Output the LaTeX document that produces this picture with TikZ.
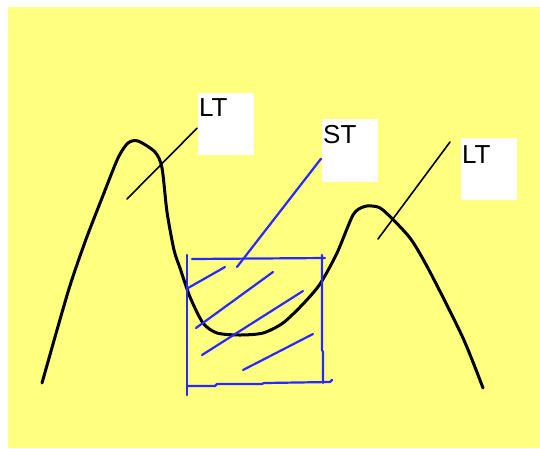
\documentclass[tikz,border=0pt]{standalone}
\usepackage{fontspec}
\setmainfont{Liberation Sans}
\usetikzlibrary{calc}
\definecolor{bgyellow}{RGB}{255,255,128}
\definecolor{penblue}{RGB}{40,40,255}
\begin{document}
\begin{tikzpicture}[x=1pt,y=-1pt,
  tbox/.style={fill=white, draw=none, anchor=north west, minimum width=56pt, minimum height=62pt, inner sep=0pt},
  tlabel/.style={anchor=north west, inner sep=0pt, font=\fontsize{26}{30}\selectfont},
  curveline/.style={line width=3pt, line cap=round, line join=round},
  blackptr/.style={line width=1.6pt, line cap=round},
  blueline/.style={draw=penblue, line width=2.2pt, line cap=round, line join=round}]
\fill[white] (0,0) rectangle (540,448);
\useasboundingbox (0,0) rectangle (540,448);
\fill[bgyellow] (8,7) rectangle (540,448);

% text boxes
\node[tbox] (lt1box) at (198,93) {};
\node[tlabel] (lt1) at (199,98) {LT};
\node[tbox, minimum height=63pt] (stbox) at (322,119) {};
\node[tlabel] (st) at (323,125) {ST};
\node[tbox] (lt2box) at (461,138) {};
\node[tlabel] (lt2) at (462,145) {LT};

% curve
\draw[curveline] plot[smooth, tension=0.45] coordinates {
  (42,383) (68,292) (85,242) (102,198) (118,158) (128,143) (138,141) (155,152)
  (162,168) (167,212) (174,250) (180,268) (190,297) (203,323) (217,333) (240,335)
  (263,333) (283,323) (303,304) (320,284) (337,253) (353,215) (363,207)
  (372,206) (383,210) (410,238) (430,272) (463,338) (483,388)};

% pointer lines
\coordinate (lt1end) at (127,199);
\coordinate (lt2end) at (378,239);
\coordinate (stend) at (237,267);
\draw[blackptr] ($(lt1box.west)+(-1,4)$) -- (lt1end);
\draw[blackptr] ($(lt2box.north west)+(-11,4)$) -- (lt2end);
\draw[blueline] ($(stbox.west)+(-1,8)$) -- (stend);

% blue box
\draw[blueline] (187,255) -- (187,395);
\draw[blueline] (192,259) -- (325,258);
\draw[blueline] (322,255) -- (322,350) -- (323,352) -- (323,383);
\draw[blueline] (188,386) -- (215,386) -- (217,384) -- (262,384) -- (264,383) -- (330,382) -- (332,380);

% hatching
\draw[blueline] (188,288) -- (225,267);
\draw[blueline] (196,328) -- (273,272);
\draw[blueline] (202,355) -- (303,291);
\draw[blueline] (243,370) -- (313,334);
\end{tikzpicture}
\end{document}
